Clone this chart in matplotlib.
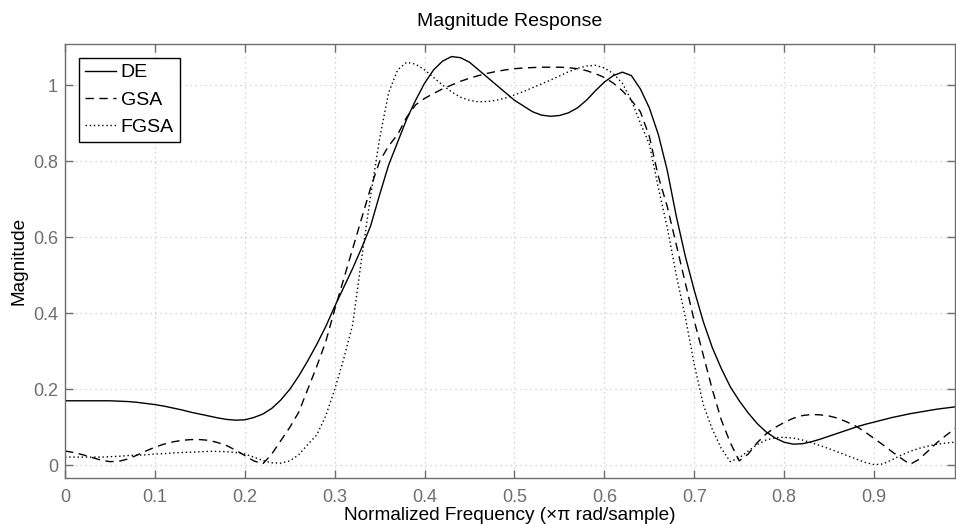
import numpy as np
import matplotlib
matplotlib.use("Agg")
import matplotlib.pyplot as plt

freq = [round(0.01 * i, 2) for i in range(100)]

de = [0.170, 0.170, 0.170, 0.170, 0.170, 0.170, 0.169, 0.168, 0.166, 0.163,
      0.160, 0.156, 0.151, 0.146, 0.140, 0.135, 0.130, 0.125, 0.121, 0.119,
      0.120, 0.126, 0.135, 0.150, 0.172, 0.200, 0.235, 0.275, 0.318, 0.365,
      0.418, 0.468, 0.518, 0.572, 0.630, 0.712, 0.790, 0.850, 0.910, 0.960,
      1.005, 1.040, 1.063, 1.075, 1.072, 1.060, 1.040, 1.020, 1.000, 0.980,
      0.960, 0.945, 0.930, 0.921, 0.918, 0.920, 0.927, 0.940, 0.960, 0.985,
      1.008, 1.025, 1.034, 1.025, 0.990, 0.940, 0.870, 0.775, 0.655, 0.550,
      0.460, 0.378, 0.310, 0.255, 0.207, 0.170, 0.138, 0.110, 0.088, 0.072,
      0.061, 0.056, 0.057, 0.062, 0.069, 0.077, 0.085, 0.093, 0.101, 0.108,
      0.114, 0.120, 0.126, 0.131, 0.136, 0.140, 0.144, 0.148, 0.151, 0.154]

gsa = [0.038, 0.034, 0.028, 0.021, 0.014, 0.010, 0.011, 0.017, 0.027, 0.038,
       0.048, 0.056, 0.062, 0.066, 0.068, 0.068, 0.066, 0.060, 0.052, 0.040,
       0.026, 0.012, 0.004, 0.030, 0.065, 0.100, 0.140, 0.200, 0.260, 0.325,
       0.410, 0.490, 0.570, 0.650, 0.730, 0.800, 0.840, 0.870, 0.915, 0.948,
       0.965, 0.978, 0.990, 1.000, 1.010, 1.018, 1.025, 1.031, 1.036, 1.040,
       1.043, 1.045, 1.046, 1.047, 1.047, 1.047, 1.046, 1.043, 1.038, 1.030,
       1.020, 1.005, 0.985, 0.960, 0.930, 0.865, 0.760, 0.680, 0.580, 0.480,
       0.380, 0.290, 0.200, 0.120, 0.060, 0.012, 0.030, 0.060, 0.083, 0.100,
       0.113, 0.124, 0.131, 0.134, 0.133, 0.130, 0.124, 0.114, 0.103, 0.088,
       0.071, 0.054, 0.036, 0.019, 0.003, 0.016, 0.038, 0.060, 0.079, 0.097]

fgsa = [0.022, 0.022, 0.022, 0.022, 0.022, 0.023, 0.024, 0.026, 0.027, 0.028,
        0.030, 0.031, 0.033, 0.034, 0.035, 0.036, 0.037, 0.037, 0.036, 0.034,
        0.030, 0.022, 0.013, 0.007, 0.006, 0.012, 0.028, 0.055, 0.080, 0.130,
        0.200, 0.280, 0.370, 0.545, 0.710, 0.860, 0.980, 1.040, 1.060, 1.055,
        1.040, 1.020, 1.000, 0.982, 0.968, 0.960, 0.956, 0.957, 0.960, 0.966,
        0.974, 0.983, 0.993, 1.003, 1.013, 1.024, 1.035, 1.044, 1.050, 1.052,
        1.045, 1.030, 1.005, 0.960, 0.900, 0.845, 0.730, 0.625, 0.500, 0.390,
        0.265, 0.160, 0.095, 0.045, 0.010, 0.020, 0.038, 0.055, 0.067, 0.073,
        0.074, 0.072, 0.067, 0.060, 0.052, 0.044, 0.035, 0.026, 0.017, 0.008,
        0.002, 0.004, 0.015, 0.027, 0.037, 0.045, 0.051, 0.056, 0.059, 0.061]

labels = ["DE", "GSA", "FGSA"]
xticks = [0, 0.1, 0.2, 0.3, 0.4, 0.5, 0.6, 0.7, 0.8, 0.9]
xticklabels = ["0", "0.1", "0.2", "0.3", "0.4", "0.5", "0.6", "0.7", "0.8", "0.9"]
yticks = [0, 0.2, 0.4, 0.6, 0.8, 1.0]
yticklabels = ["0", "0.2", "0.4", "0.6", "0.8", "1"]

plt.rcParams['font.family'] = ['Liberation Sans', 'DejaVu Sans']

fig = plt.figure(figsize=(9.56, 5.24), dpi=100)
ax = fig.add_axes([65 / 956, 1 - 478 / 524, (955 - 65) / 956, (478 - 44) / 524])

ax.plot(freq, de, color='black', linestyle='-', linewidth=1.0, label=labels[0])
ax.plot(freq, gsa, color='black', linestyle=(0, (6, 4)), linewidth=1.0, label=labels[1])
ax.plot(freq, fgsa, color='black', linestyle=(0, (1, 2)), linewidth=1.0, label=labels[2])

ax.set_xlim(0, 0.99)
ax.set_ylim(-0.033, 1.108)
ax.set_xticks(xticks)
ax.set_xticklabels(xticklabels)
ax.set_yticks(yticks)
ax.set_yticklabels(yticklabels)

gray = '#6e6e6e'
for s in ax.spines.values():
    s.set_color(gray)
    s.set_linewidth(1.0)
ax.tick_params(direction='in', length=6, width=1, colors=gray, labelsize=13,
               top=True, right=True)
ax.tick_params(axis='x', pad=8)
ax.tick_params(axis='y', pad=5)
ax.grid(True, color='#c8c8c8', linestyle=(0, (1, 3)), linewidth=0.9)

ax.set_title("Magnitude Response", fontsize=14, pad=13)
ax.set_xlabel("Normalized Frequency (\u00d7\u03c0 rad/sample)", fontsize=13.7, labelpad=1)
ax.set_ylabel("Magnitude", fontsize=13.7, labelpad=4)

leg = ax.legend(loc='upper left', bbox_to_anchor=(0.0157, 0.9677), fontsize=14,
                frameon=True, fancybox=False, edgecolor='black', framealpha=1,
                handlelength=1.6, handletextpad=0.25, borderpad=0.3,
                labelspacing=0.5, borderaxespad=0)
leg.get_frame().set_linewidth(1.0)

fig.savefig("out.png", dpi=100)
